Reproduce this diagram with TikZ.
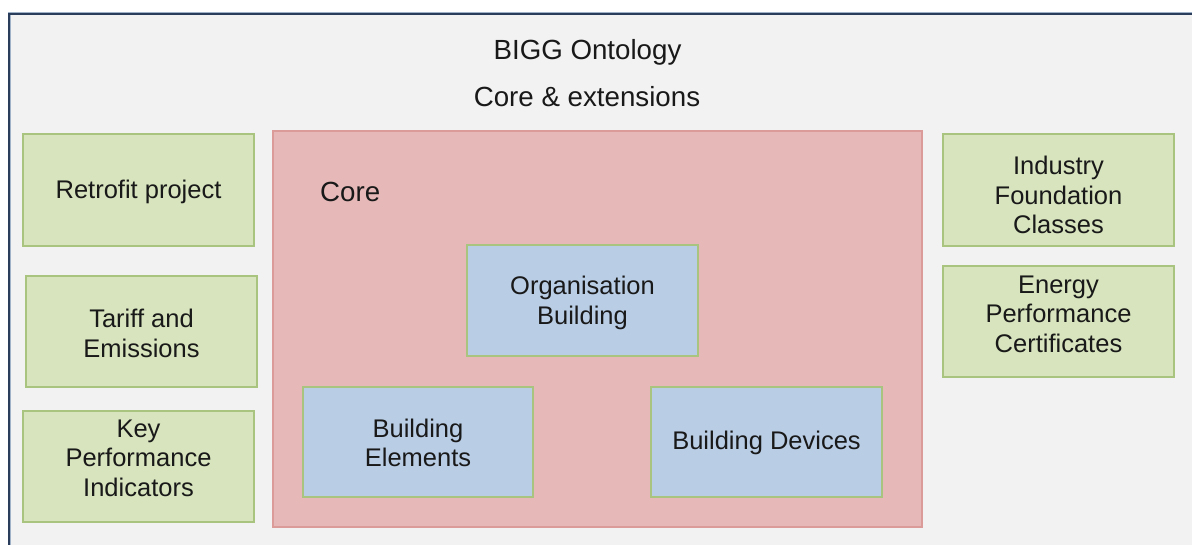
\documentclass[tikz,border=0pt]{standalone}
\usepackage{fontspec}
\setmainfont{Liberation Sans}
\definecolor{pagegray}{HTML}{F2F2F2}
\definecolor{framenavy}{HTML}{2A3E5C}
\definecolor{framehalo}{HTML}{9FB2C8}
\definecolor{extfill}{HTML}{D7E4BD}
\definecolor{extline}{HTML}{A9C47F}
\definecolor{corefill}{HTML}{E6B9B8}
\definecolor{coreline}{HTML}{DA9B99}
\definecolor{modfill}{HTML}{B9CDE5}
\begin{document}
\begin{tikzpicture}[x=1pt,y=-1pt,
  boxtext/.style={font=\fontsize{25.5}{29.5}\selectfont, align=center, text=black!90, inner sep=0pt, yshift=-2pt},
  titletext/.style={font=\fontsize{27.7}{32}\selectfont, text=black!90, inner sep=0pt, anchor=base},
  extbox/.style={draw=extline, fill=extfill, line width=1.5pt},
  modbox/.style={draw=extline, fill=modfill, line width=1.5pt},
  corebox/.style={draw=coreline, fill=corefill, line width=1.5pt}]
\useasboundingbox (0,0) rectangle (1192,545);
% page background and frame
\fill[pagegray] (9,14) rectangle (1192,545);
\draw[framehalo, line width=3pt] (9,545) -- (9,14) -- (1192,14);
\draw[framenavy, line width=1.6pt] (9,545) -- (9,14) -- (1192,14);
% title
\node[titletext] (title1) at (587.5,60) {BIGG Ontology};
\node[titletext] (title2) at (587,107) {Core \& extensions};
% core area
\draw[corebox] (273,131) rectangle (922,527);
\coordinate (corelabel) at (320,202);
\node[titletext, anchor=base west] (coretitle) at (corelabel) {Core};
% core modules
\draw[modbox] (467,245) rectangle (698,356);
\node[boxtext] (org) at (582.5,301) {Organisation\\Building};
\draw[modbox] (303,387) rectangle (533,497);
\node[boxtext] (elem) at (418,441) {Building\\Elements};
\draw[modbox] (651,387) rectangle (882,497);
\node[boxtext] (dev) at (766.5,441) {Building Devices};
% extensions on the left
\draw[extbox] (23,134) rectangle (254,246);
\node[boxtext] (retro) at (138.5,190) {Retrofit project};
\draw[extbox] (26,276) rectangle (257,387);
\node[boxtext] (tariff) at (141.5,331.5) {Tariff and\\Emissions};
\draw[extbox] (23,411) rectangle (254,522);
\node[boxtext] (kpi) at (138.5,456) {Key\\Performance\\Indicators};
% extensions on the right
\draw[extbox] (943,134) rectangle (1174,246);
\node[boxtext] (ifc) at (1058.5,193) {Industry\\Foundation\\Classes};
\draw[extbox] (943,266) rectangle (1174,377);
\node[boxtext] (epc) at (1058.5,312) {Energy\\Performance\\Certificates};
\end{tikzpicture}
\end{document}
